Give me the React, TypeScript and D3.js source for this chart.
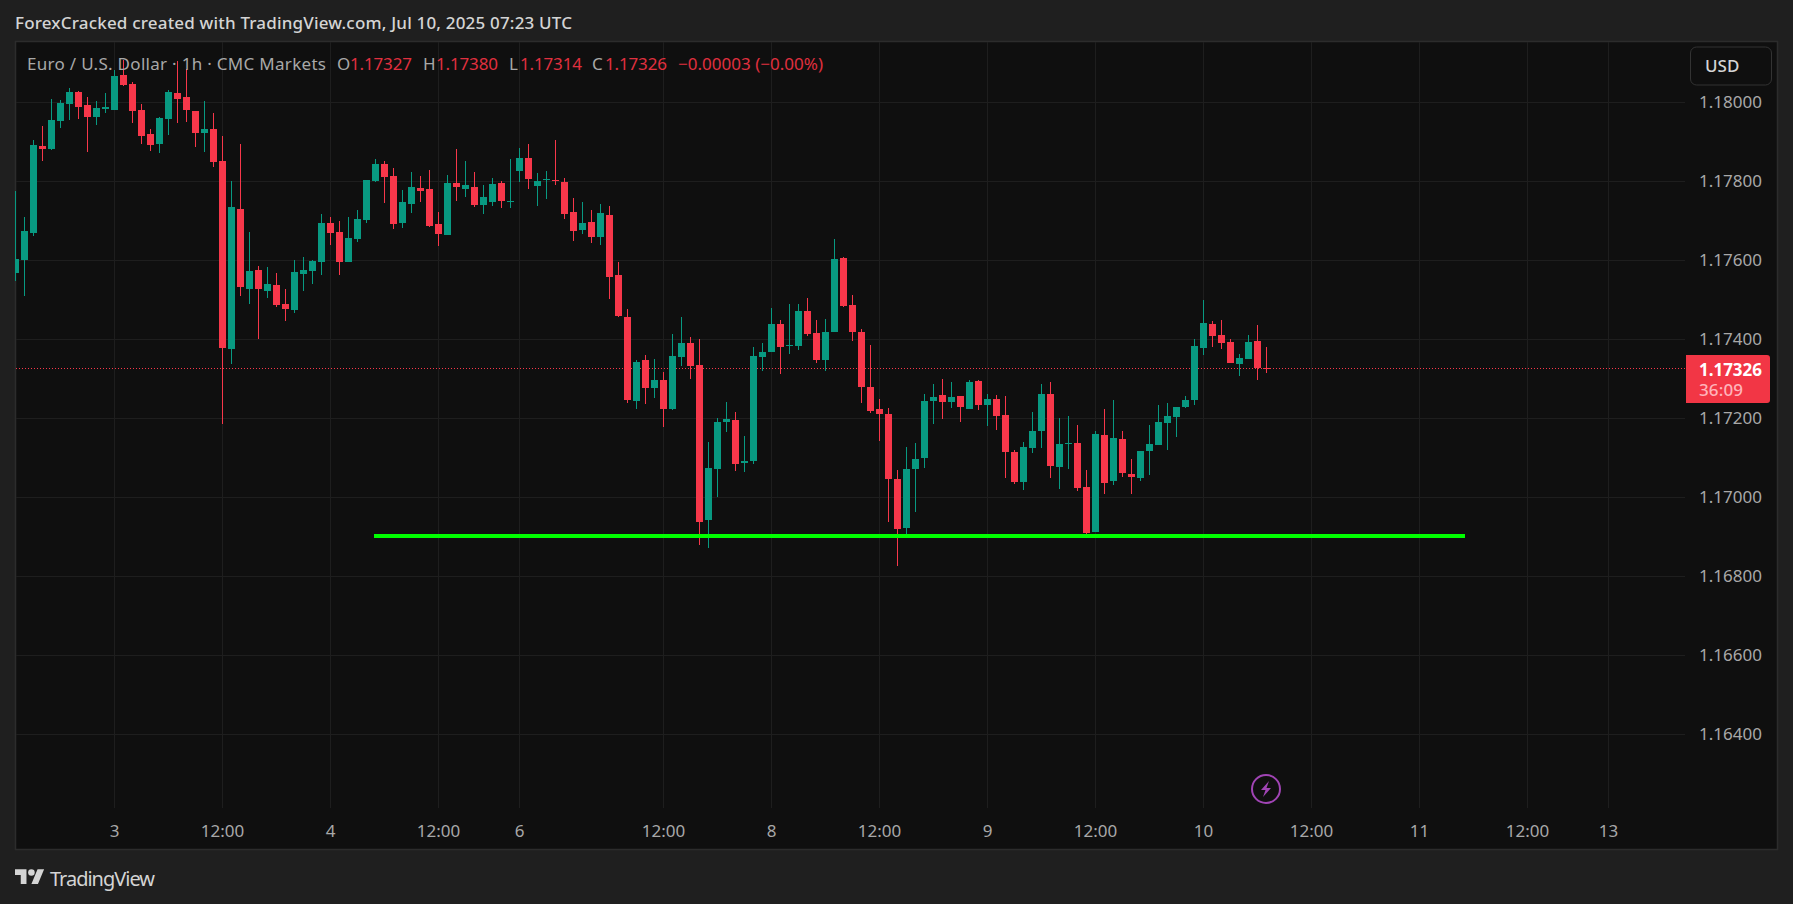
import React from 'react';
import * as d3 from 'd3';

const opens = [
  1.17568, 1.17601, 1.17669, 1.17889, 1.17882, 1.17953, 1.17996, 1.18026, 1.17993, 1.17963,
  1.17983, 1.17981, 1.18069, 1.18046, 1.17981, 1.17920, 1.17894, 1.17958, 1.18024, 1.18013,
  1.17978, 1.17922, 1.17932, 1.17851, 1.17376, 1.17730, 1.17527, 1.17576, 1.17522, 1.17537,
  1.17489, 1.17474, 1.17565, 1.17573, 1.17596, 1.17694, 1.17672, 1.17596, 1.17654, 1.17702,
  1.17801, 1.17844, 1.17813, 1.17694, 1.17743, 1.17783, 1.17781, 1.17692, 1.17664, 1.17796,
  1.17781, 1.17786, 1.17740, 1.17748, 1.17796, 1.17748, 1.17826, 1.17859, 1.17788, 1.17803,
  1.17803, 1.17798, 1.17722, 1.17677, 1.17697, 1.17659, 1.17715, 1.17563, 1.17457, 1.17244,
  1.17348, 1.17277, 1.17297, 1.17224, 1.17355, 1.17391, 1.17335, 1.16943, 1.17072, 1.17191,
  1.17196, 1.17087, 1.17092, 1.17355, 1.17368, 1.17439, 1.17383, 1.17383, 1.17472, 1.17416,
  1.17348, 1.17419, 1.17606, 1.17487, 1.17419, 1.17279, 1.17224, 1.17211, 1.17046, 1.16922,
  1.17072, 1.17100, 1.17244, 1.17259, 1.17241, 1.17257, 1.17224, 1.17295, 1.17234, 1.17249,
  1.17208, 1.17115, 1.17039, 1.17125, 1.17168, 1.17262, 1.17077, 1.17135, 1.17138, 1.17026,
  1.16912, 1.17158, 1.17041, 1.17148, 1.17059, 1.17049, 1.17117, 1.17132, 1.17188, 1.17203,
  1.17229, 1.17246, 1.17378, 1.17439, 1.17411, 1.17393, 1.17337, 1.17350, 1.17396, 1.17327,
];
const highs = [
  1.17775, 1.17710, 1.17905, 1.17940, 1.18008, 1.18006, 1.18036, 1.18029, 1.18013, 1.18003,
  1.18024, 1.18082, 1.18107, 1.18051, 1.17996, 1.17932, 1.17963, 1.18031, 1.18105, 1.18084,
  1.17978, 1.18003, 1.17973, 1.17915, 1.17801, 1.17894, 1.17672, 1.17586, 1.17583, 1.17568,
  1.17527, 1.17601, 1.17608, 1.17601, 1.17717, 1.17710, 1.17700, 1.17710, 1.17727, 1.17803,
  1.17856, 1.17851, 1.17834, 1.17778, 1.17824, 1.17813, 1.17829, 1.17722, 1.17816, 1.17882,
  1.17851, 1.17824, 1.17791, 1.17808, 1.17801, 1.17856, 1.17884, 1.17894, 1.17821, 1.17826,
  1.17905, 1.17808, 1.17758, 1.17748, 1.17727, 1.17743, 1.17738, 1.17596, 1.17477, 1.17348,
  1.17360, 1.17350, 1.17317, 1.17413, 1.17457, 1.17406, 1.17401, 1.17140, 1.17201, 1.17241,
  1.17216, 1.17155, 1.17381, 1.17391, 1.17479, 1.17449, 1.17489, 1.17489, 1.17505, 1.17449,
  1.17451, 1.17654, 1.17608, 1.17512, 1.17426, 1.17386, 1.17249, 1.17226, 1.17069, 1.17127,
  1.17138, 1.17262, 1.17287, 1.17300, 1.17292, 1.17257, 1.17297, 1.17297, 1.17262, 1.17259,
  1.17257, 1.17120, 1.17140, 1.17216, 1.17287, 1.17292, 1.17201, 1.17206, 1.17183, 1.17069,
  1.17168, 1.17224, 1.17246, 1.17168, 1.17097, 1.17117, 1.17183, 1.17234, 1.17239, 1.17229,
  1.17257, 1.17401, 1.17500, 1.17446, 1.17449, 1.17401, 1.17363, 1.17411, 1.17436, 1.17380,
];
const lows = [
  1.17548, 1.17510, 1.17662, 1.17851, 1.17879, 1.17935, 1.17955, 1.17958, 1.17874, 1.17943,
  1.17973, 1.17981, 1.18041, 1.17948, 1.17894, 1.17877, 1.17872, 1.17917, 1.17948, 1.17950,
  1.17887, 1.17874, 1.17836, 1.17186, 1.17337, 1.17510, 1.17489, 1.17401, 1.17505, 1.17482,
  1.17446, 1.17467, 1.17522, 1.17540, 1.17563, 1.17639, 1.17563, 1.17596, 1.17646, 1.17694,
  1.17798, 1.17745, 1.17679, 1.17682, 1.17720, 1.17748, 1.17684, 1.17636, 1.17664, 1.17750,
  1.17760, 1.17735, 1.17717, 1.17738, 1.17732, 1.17732, 1.17798, 1.17781, 1.17738, 1.17755,
  1.17791, 1.17705, 1.17649, 1.17667, 1.17644, 1.17639, 1.17502, 1.17457, 1.17239, 1.17224,
  1.17236, 1.17251, 1.17178, 1.17221, 1.17332, 1.17300, 1.16879, 1.16872, 1.17001, 1.17165,
  1.17067, 1.17064, 1.17084, 1.17320, 1.17368, 1.17312, 1.17363, 1.17373, 1.17408, 1.17340,
  1.17320, 1.17419, 1.17482, 1.17396, 1.17239, 1.17213, 1.17143, 1.16938, 1.16826, 1.16902,
  1.16963, 1.17074, 1.17186, 1.17198, 1.17226, 1.17191, 1.17224, 1.17221, 1.17181, 1.17170,
  1.17049, 1.17034, 1.17019, 1.17112, 1.17125, 1.17049, 1.17021, 1.17072, 1.17016, 1.16900,
  1.16912, 1.17008, 1.17031, 1.17051, 1.17008, 1.17041, 1.17057, 1.17132, 1.17120, 1.17153,
  1.17226, 1.17234, 1.17360, 1.17381, 1.17376, 1.17340, 1.17307, 1.17350, 1.17297, 1.17314,
];
const closes = [
  1.17603, 1.17674, 1.17892, 1.17882, 1.17955, 1.17998, 1.18026, 1.17988, 1.17963, 1.17986,
  1.17988, 1.18067, 1.18044, 1.17978, 1.17915, 1.17892, 1.17960, 1.18026, 1.18008, 1.17981,
  1.17922, 1.17932, 1.17849, 1.17378, 1.17735, 1.17532, 1.17573, 1.17527, 1.17540, 1.17487,
  1.17477, 1.17570, 1.17576, 1.17598, 1.17694, 1.17669, 1.17596, 1.17656, 1.17705, 1.17803,
  1.17844, 1.17811, 1.17692, 1.17748, 1.17786, 1.17775, 1.17687, 1.17667, 1.17796, 1.17786,
  1.17791, 1.17740, 1.17760, 1.17793, 1.17750, 1.17750, 1.17859, 1.17806, 1.17801, 1.17806,
  1.17801, 1.17717, 1.17674, 1.17694, 1.17659, 1.17720, 1.17558, 1.17459, 1.17246, 1.17343,
  1.17277, 1.17297, 1.17224, 1.17358, 1.17391, 1.17332, 1.16938, 1.17074, 1.17191, 1.17198,
  1.17084, 1.17092, 1.17358, 1.17368, 1.17439, 1.17381, 1.17386, 1.17472, 1.17413, 1.17348,
  1.17419, 1.17603, 1.17484, 1.17419, 1.17279, 1.17219, 1.17211, 1.17046, 1.16920, 1.17072,
  1.17097, 1.17244, 1.17254, 1.17241, 1.17254, 1.17229, 1.17292, 1.17234, 1.17249, 1.17206,
  1.17115, 1.17039, 1.17127, 1.17168, 1.17262, 1.17079, 1.17135, 1.17138, 1.17024, 1.16910,
  1.17160, 1.17036, 1.17150, 1.17062, 1.17051, 1.17117, 1.17135, 1.17191, 1.17206, 1.17229,
  1.17246, 1.17383, 1.17441, 1.17408, 1.17391, 1.17340, 1.17353, 1.17393, 1.17327, 1.17326,
];

const priceTicks = [1.18, 1.178, 1.176, 1.174, 1.172, 1.17, 1.168, 1.166, 1.164];
const timeTickBars = [11, 23, 35, 47, 56, 72, 84, 96, 108, 120, 132, 144, 156, 168, 177];
const timeTickLabels = ['3', '12:00', '4', '12:00', '6', '12:00', '8', '12:00', '9', '12:00', '10', '12:00', '11', '12:00', '13'];

const lastPrice = 1.17326;
const supportPrice = 1.16902;
const supportFromBar = 39.78;
const supportToBar = 161.1;

const headerLabels = ['O', 'H', 'L', 'C'];
const headerValues = ['1.17327', '1.17380', '1.17314', '1.17326'];
const headerLabelX = [337, 423, 509, 592];
const headerValueX = [350, 436, 520, 605];

const UP = '#089981';
const DOWN = '#f7374a';
const FONT = '"Noto Sans", sans-serif';

const x = d3.scaleLinear().domain([0, 1]).range([15.5, 24.5]);
const y = d3.scaleLinear().domain([1.18, 1.164]).range([102.3, 734.3]);

const crisp = (v: number) => Math.floor(v) + 0.5;

export default function App() {
  const bars = d3.range(opens.length);
  const rightEdge = 1685;

  return (
    <svg width={1793} height={904} style={{ position: 'fixed', left: 0, top: 0, display: 'block' }} fontFamily={FONT}>
      <defs>
        <clipPath id="pane">
          <rect x={15} y={42} width={rightEdge - 15} height={766} />
        </clipPath>
      </defs>
      <rect width={1793} height={904} fill="#1f1f1f" />
      <rect x={15.5} y={41.5} width={1762} height={808} fill="#0f0f0f" stroke="#2c2c2c" strokeWidth={1.5} />

      <text x={15} y={29} fontSize={17} fontWeight={500} fill="#d4d4d4" textLength={557}>
        ForexCracked created with TradingView.com, Jul 10, 2025 07:23 UTC
      </text>

      {/* grid */}
      {priceTicks.map((p) => (
        <line key={p} x1={16} x2={rightEdge} y1={crisp(y(p))} y2={crisp(y(p))} stroke="#1e1e1e" />
      ))}
      {timeTickBars.map((b) => (
        <line key={b} x1={x(b)} x2={x(b)} y1={42} y2={808} stroke="#1e1e1e" />
      ))}

      {/* last price line */}
      <line x1={16} x2={rightEdge} y1={crisp(y(lastPrice))} y2={crisp(y(lastPrice))} stroke={DOWN} strokeDasharray="1 2" />

      {/* candles */}
      <g clipPath="url(#pane)" shapeRendering="crispEdges">
        {bars.map((i) => {
          const up = closes[i] >= opens[i];
          const color = up ? UP : DOWN;
          const top = y(Math.max(opens[i], closes[i]));
          const bottom = y(Math.min(opens[i], closes[i]));
          return (
            <g key={i} fill={color}>
              <rect x={x(i) - 0.5} y={y(highs[i])} width={1} height={y(lows[i]) - y(highs[i])} />
              <rect x={x(i) - 3.5} y={top} width={7} height={Math.max(1, bottom - top)} />
            </g>
          );
        })}
      </g>

      {/* support line */}
      <line
        x1={x(supportFromBar)}
        x2={x(supportToBar)}
        y1={y(supportPrice)}
        y2={y(supportPrice)}
        stroke="#00ff00"
        strokeWidth={4}
        shapeRendering="crispEdges"
      />

      {/* legend */}
      <g fontSize={17} dominantBaseline="central">
        <text x={27} y={63.5} fill="#a8a8a8" textLength={299}>
          Euro / U.S. Dollar · 1h · CMC Markets
        </text>
        {headerLabels.map((l, i) => (
          <text key={l} x={headerLabelX[i]} y={63.5} fill="#a8a8a8">{l}</text>
        ))}
        {headerValues.map((v, i) => (
          <text key={i} x={headerValueX[i]} y={63.5} fill="#e0303f" textLength={62}>{v}</text>
        ))}
        <text x={678} y={63.5} fill="#e0303f" textLength={145}>−0.00003 (−0.00%)</text>
      </g>

      {/* price axis */}
      <g fontSize={17} fill="#a8a8a8" dominantBaseline="central">
        {priceTicks.map((p) => (
          <text key={p} x={1699} y={y(p) - 1} textLength={63}>{d3.format('.5f')(p)}</text>
        ))}
      </g>
      <path d="M1686 355H1767a3 3 0 0 1 3 3V400a3 3 0 0 1 -3 3H1686Z" fill="#f23645" />
      <text x={1699} y={369} fontSize={17} fontWeight={700} fill="#ffffff" dominantBaseline="central" textLength={63}>
        {d3.format('.5f')(lastPrice)}
      </text>
      <text x={1699} y={389} fontSize={17} fontWeight={500} fill="#ffb3ba" dominantBaseline="central" textLength={44}>
        36:09
      </text>
      <rect x={1690.5} y={47} width={81} height={38} rx={6} fill="#0f0f0f" stroke="#333333" />
      <text x={1705} y={65} fontSize={17} fontWeight={500} fill="#d4d4d4" dominantBaseline="central">USD</text>

      {/* time axis */}
      <g fontSize={17} fill="#a8a8a8" textAnchor="middle" dominantBaseline="central">
        {timeTickBars.map((b, i) => (
          <text key={b} x={x(b)} y={830}>{timeTickLabels[i]}</text>
        ))}
      </g>

      {/* lightning badge */}
      <g transform="translate(1266,789)">
        <circle r={14} fill="none" stroke="#a044b4" strokeWidth={2} />
        <path d="M3 -8 L-5 1 L-0.5 1 L-3 8 L5 -1 L0.5 -1 Z" fill="#a044b4" />
      </g>

      {/* footer logo */}
      <g transform="translate(15,866) scale(0.82)" fill="#d4d4d4">
        <path d="M14 22H7V11H0V4h14v18zM28 22h-8l7.5-18h8L28 22z" />
        <circle cx={20} cy={8} r={4} />
      </g>
      <text x={50} y={878} fontSize={20} fontWeight={400} fill="#d4d4d4" dominantBaseline="central" textLength={105}>
        TradingView
      </text>
    </svg>
  );
}
